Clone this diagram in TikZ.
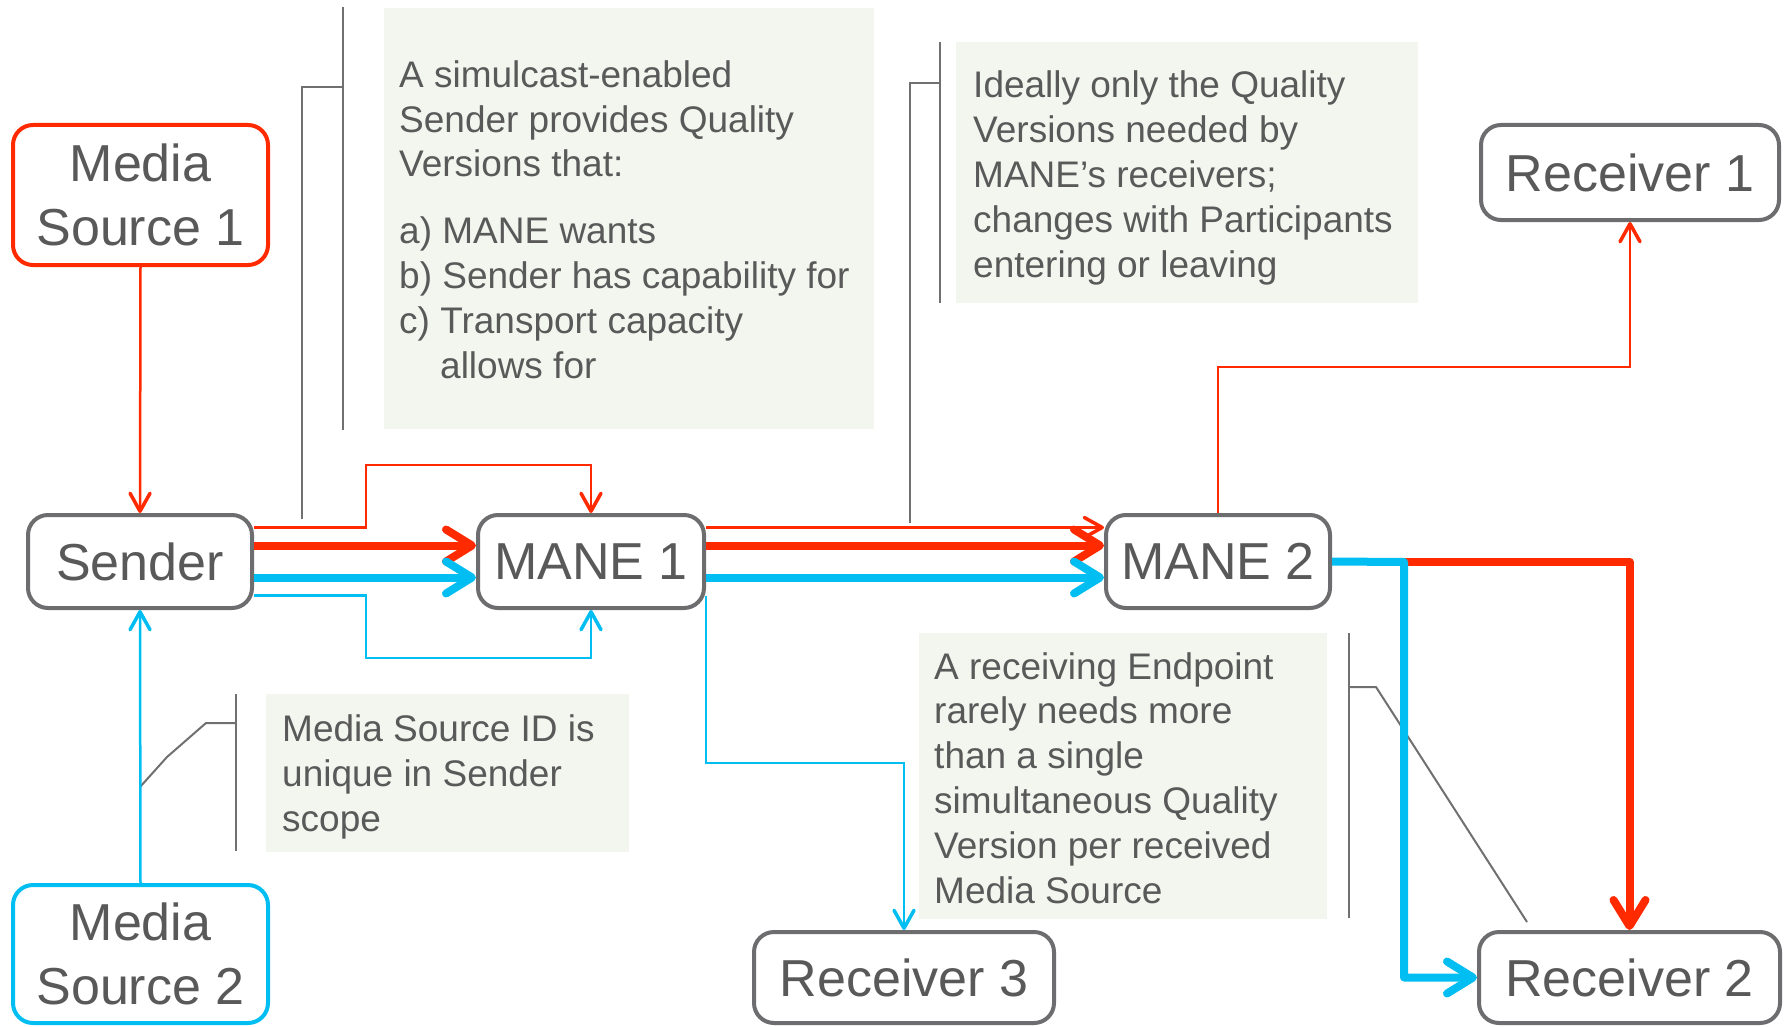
\documentclass[tikz,border=0pt]{standalone}
\usepackage{fontspec}
\setmainfont{Liberation Sans}
\usetikzlibrary{arrows.meta,calc}
\definecolor{srcred}{HTML}{FF2A00}
\definecolor{srcblue}{HTML}{00BEF2}
\definecolor{boxgray}{HTML}{6D6D6F}
\definecolor{txtgray}{HTML}{595959}
\definecolor{notefill}{HTML}{F3F6EF}
\definecolor{leadgray}{HTML}{707070}
\begin{document}
\begin{tikzpicture}[x=1pt,y=-1pt,
  entity/.style={draw=boxgray, line width=4pt, rounded corners=20pt, fill=white,
    text=txtgray, font=\fontsize{52}{64}\selectfont, align=center, inner sep=0pt},
  redsrc/.style={entity, draw=srcred},
  bluesrc/.style={entity, draw=srcblue},
  notebg/.style={fill=notefill, draw=none, anchor=north west, inner sep=0pt},
  % the base anchor of a multi-line note sits on its last line
  notetext/.style={text=txtgray, font=\fontsize{37}{44.8}\selectfont, align=left,
    inner sep=0pt, anchor=base west},
  leader/.style={draw=leadgray, line width=2pt},
  thinflow/.style={line width=2.5pt,
    -{Straight Barb[length=18pt,width=20pt,line width=3.5pt,round]}},
  thickflow/.style={line width=8pt, line join=round,
    -{Straight Barb[length=26pt,width=32pt,line width=8pt,round]}},
]
\useasboundingbox (0,0) rectangle (1787,1027);

% explanatory notes
\node[notebg, minimum width=490pt, minimum height=421pt] (note1) at (384,8) {};
\node[notetext] (note1text) at (399,378)
  {A simulcast-enabled\\Sender provides Quality\\Versions that:\\[22pt]a) MANE wants\\b) Sender has capability for\\c) Transport capacity\\\hspace*{41pt}allows for};
\node[notebg, minimum width=462pt, minimum height=261pt] (note2) at (956,42) {};
\node[notetext] (note2text) at (973,277)
  {Ideally only the Quality\\Versions needed by\\MANE’s receivers;\\changes with Participants\\entering or leaving};
\node[notebg, minimum width=408pt, minimum height=286pt] (note3) at (919,633) {};
\node[notetext] (note3text) at (934,903)
  {A receiving Endpoint\\rarely needs more\\than a single\\simultaneous Quality\\Version per received\\Media Source};
\node[notebg, minimum width=363pt, minimum height=158pt] (note4) at (266,694) {};
\node[notetext] (note4text) at (282,831.5)
  {Media Source ID is\\unique in Sender\\scope};

% callout leaders
\draw[leader] (343,7) -- (343,430);
\draw[leader] (343,87) -- (302,87) -- (302,519);
\draw[leader] (940,42) -- (940,303);
\draw[leader] (940,83) -- (910,83) -- (910,523);
\draw[leader] (1349,633) -- (1349,918);
\draw[leader] (1349,687) -- (1376,687) -- (1527,922);
\draw[leader] (236,694) -- (236,851);
\draw[leader] (236,723) -- (206,723) -- (167,757) -- (140,787);

% endpoints and middleboxes
\node[redsrc, minimum width=255pt, minimum height=140pt] (ms1) at (140.5,195) {Media\\Source 1};
\node[bluesrc, minimum width=255pt, minimum height=138pt] (ms2) at (140.5,954) {Media\\Source 2};
\node[entity, minimum width=224pt, minimum height=93pt] (sender) at (140,561.5) {Sender};
\node[entity, minimum width=226pt, minimum height=93pt] (mane1) at (591,561.5) {MANE 1};
\node[entity, minimum width=224pt, minimum height=93pt] (mane2) at (1218,561.5) {MANE 2};
\node[entity, minimum width=298pt, minimum height=95pt] (recv1) at (1630,172.5) {Receiver 1};
\node[entity, minimum width=300pt, minimum height=91pt] (recv3) at (904,977.5) {Receiver 3};
\node[entity, minimum width=301pt, minimum height=91pt] (recv2) at (1629.5,977.5) {Receiver 2};

% sources into the sender
\draw[thinflow, srcred] (ms1.south) -- (sender.north);
\draw[thinflow, srcblue] (ms2.north) -- (sender.south);

% sender to MANE 1
\draw[thinflow, srcred] ([yshift=34pt]sender.east) -| (366,465) -| (mane1.north);
\draw[thinflow, srcblue] ([yshift=-34pt]sender.east) -| (366,658) -| (mane1.south);
\draw[thickflow, srcred] ([yshift=16pt]sender.east) -- ([yshift=16pt]mane1.west);
\draw[thickflow, srcblue] ([yshift=-16pt]sender.east) -- ([yshift=-16pt]mane1.west);

% MANE 1 onwards
\draw[thinflow, srcred] ([yshift=34pt]mane1.east) -- ([yshift=34pt]mane2.west);
\draw[thickflow, srcred] ([yshift=16pt]mane1.east) -- ([yshift=16pt]mane2.west);
\draw[thickflow, srcblue] ([yshift=-16pt]mane1.east) -- ([yshift=-16pt]mane2.west);
\draw[thinflow, srcblue] ([yshift=-34pt]mane1.east) -- (mane1.east |- 0,763) -| (recv3.north);

% MANE 2 onwards
\draw[thinflow, srcred] (mane2.north) -- (mane2.north |- 0,367) -| (recv1.south);
\draw[thickflow, srcred] (1404,562) -| (recv2.north);
\draw[thickflow, srcblue] (mane2.east) -- (1404,562) |- (recv2.west);
\end{tikzpicture}
\end{document}
